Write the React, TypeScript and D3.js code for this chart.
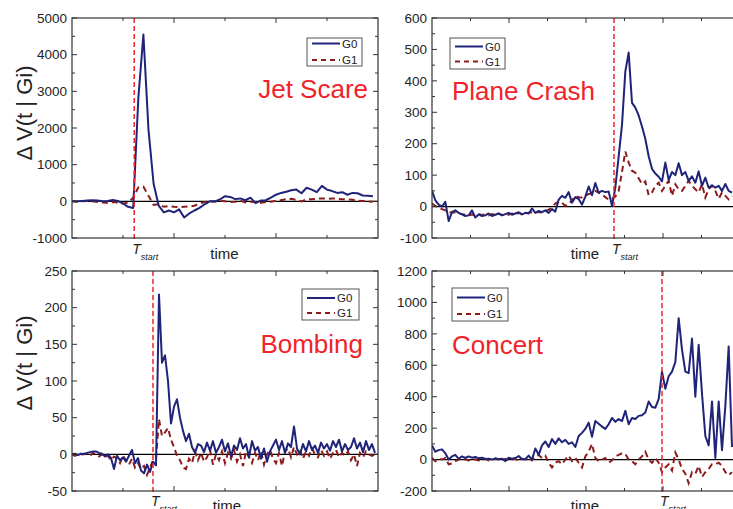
import React from "react";
import * as d3 from "d3";

// ---- Series values (ΔV per time step) ----
const jetG0 = [
  0, 0, 10, 20, 30, 20, 0, 10, 40, 10, -60, -150, -180, 2800, 4550, 1950, 480, -120,
  -300, -250, -300, -220, -440, -330, -250, -180, -80, 0, 0, 50, 140, 120, 60, 80, 30,
  100, -50, 20, 30, 100, 180, 230, 260, 300, 320, 220, 370, 320, 250, 420, 320, 280,
  230, 250, 180, 230, 220, 160, 150, 140,
];
const jetG1 = [
  0, -10, 0, 10, 0, -20, -30, -40, -20, -30, -60, -40, 100, 380, 400, 150, -100, -80,
  -150, -130, -150, -160, -150, -140, -120, -60, -20, 0, -10, 20, 0, -20, -10, 20, -30,
  -10, -20, -40, -20, -10, 20, 30, 60, 70, 40, 0, 50, 60, 70, 80, 70, 80, 70, 60, 50,
  40, 20, 10, 0, -10,
];

const planeG0 = [
  50, 20, 6, 0, 15, -46, -18, -12, -20, -25, -30, -28, -12, -35, -25, -30, -28, -22,
  -30, -26, -22, -28, -24, -20, -26, -22, -18, -25, -20, -22, -6, -20, -14, -18, -12,
  -20, -8, -16, 22, 34, 28, 46, 12, 30, 24, 6, 32, 64, 36, 75, 44, 50, 46, 48, 2, 60,
  160, 260, 430, 490, 330, 315, 290, 255, 215, 160, 120, 105, 95, 80, 140, 85, 110,
  100, 138, 100, 110, 82, 96, 76, 112, 66, 92, 60, 68, 60, 66, 50, 72, 50, 44,
];
const planeG1 = [
  10, 2, -4, -8, -12, -19, -18, -19, -22, -24, -26, -28, -25, -28, -24, -27, -25, -28,
  -24, -26, -22, -27, -24, -26, -22, -25, -20, -24, -22, -20, -18, -19, -17, -18, -15,
  -10, -3, 10, 16, 12, 2, 8, 20, 34, 30, 29, 34, 40, 42, 50, 44, 38, 30, 22, 25, 32,
  50, 110, 175, 140, 114, 108, 90, 72, 80, 36, 45, 66, 76, 50, 66, 82, 34, 71, 55, 50,
  66, 82, 66, 55, 45, 71, 29, 55, 66, 50, 25, 45, 34, 23, 34,
];

const bombG0 = [
  0, 1, -1, 1, 0, 2, 3, 4, 4, 2, 1, -3, 0, -5, -20, -2, -8, -4, -10, -2, 6, -12, -5,
  -22, -26, -14, -24, -10, -15, 218, 125, 135, 100, 42, 65, 75, 50, 32, 18, 28, 10, 2,
  14, 12, 3, 16, 5, 18, 2, 10, 20, 4, 15, -3, 12, 6, 22, 8, 14, -4, 18, 5, 10, -6, 8,
  -10, 4, 12, 20, 6, 18, 2, 15, 10, 38, 8, 0, 14, 4, 18, 6, 12, 2, 16, 8, 14, 5, 18,
  10, 20, 4, 14, 6, 10, 22, 8, 16, 3, 18, 6, 14, 2,
];
const bombG1 = [
  0, -2, 0, -1, 1, 0, -2, 2, 0, -3, 0, -4, -2, -8, -3, -6, -12, -2, -8, -14, -6, -18,
  -12, -20, -16, -28, -18, -8, -5, 48, 25, 30, 36, 20, 10, -2, -8, -18, -20, -6, -12, 4,
  -8, 2, -10, -4, 6, -14, 0, -8, 4, -12, 2, -6, 6, -10, 0, -16, 4, -4, -12, 2, -8, 4,
  -14, 0, 6, -6, -12, 2, -16, 4, 8, -4, 10, 0, 6, -6, 4, -2, 8, 0, -4, 6, -2, 4, -6, 2,
  6, -4, 2, -2, 4, -8, 0, -16, 2, -4, 4, 0, -2, 0,
];

const concertG0 = [
  90, 50, 60, 65, 40, 0, 20, 30, 5, 20, 10, 20, 12, 16, 8, 12, 4, 6, 0, 8, 2, 6, -10,
  12, 5, 10, 22, 4, 2, 25, 0, 70, 30, 90, 115, 80, 130, 100, 135, 110, 125, 100, 110,
  80, 150, 170, 195, 235, 145, 245, 228, 210, 195, 225, 265, 240, 258, 245, 310, 225,
  265, 258, 278, 282, 300, 370, 335, 330, 385, 560, 450, 530, 560, 620, 900, 700, 560,
  550, 770, 400, 730, 420, 150, 90, 370, 10, 370, 60, 340, 720, 80,
];
const concertG1 = [
  10, -10, 5, 0, 10, -30, -25, -10, 0, 5, 0, -5, 5, 0, -5, 0, 5, -5, 0, 5, 0, -5, 5,
  -5, 0, 5, -10, 5, 0, 10, -5, 20, 30, 10, 25, -20, -50, -20, -10, -30, 0, 25, -10, 10,
  -20, -50, 20, 50, 100, 10, -10, 0, 10, -20, -5, 20, 30, 40, 35, 0, -10, -30, 0, 20,
  50, 0, -20, 10, -20, -80, -50, -30, -70, 45, 0, -60, -90, -150, -80, -90, -40, -110,
  -80, -60, -30, -30, -20, -40, -80, -100, -80,
];

const seriesNames = ["G0", "G1"];
const panelTitles = ["Jet Scare", "Plane Crash", "Bombing", "Concert"];
const yDomains: [number, number][] = [
  [-1000, 5000],
  [-100, 600],
  [-50, 250],
  [-200, 1200],
];
const yMajorSteps = [1000, 100, 50, 200];
const tStarts = [12.2, 54.6, 27, 69];
const xMaxes = [60, 92.4, 102, 92.4];

// ---- Layout for each panel ----
const layout = [
  {
    box: { l: 72, r: 378, t: 18, b: 238 },
    xDiv: 6,
    legend: { x: 307, y: 38, w: 55, h: 28, r0: 5.5, r1: 22 },
    title: { x: 368, y: 98, anchor: "end" },
    yTitle: 113,
    timeX: 224.5,
    timeY: 259,
    tY: 254,
  },
  {
    box: { l: 432, r: 740, t: 18, b: 238 },
    xDiv: 8,
    legend: { x: 450, y: 38, w: 55, h: 31, r0: 8.5, r1: 23.5 },
    title: { x: 452, y: 100, anchor: "start" },
    yTitle: null,
    timeX: 585,
    timeY: 259,
    tY: 254,
  },
  {
    box: { l: 72, r: 378, t: 271, b: 491 },
    xDiv: 6,
    legend: { x: 302, y: 289, w: 57, h: 31, r0: 9, r1: 24 },
    title: { x: 363, y: 353, anchor: "end" },
    yTitle: 363,
    timeX: 227,
    timeY: 511,
    tY: 506,
  },
  {
    box: { l: 432, r: 740, t: 271, b: 491 },
    xDiv: 8,
    legend: { x: 452, y: 288, w: 56, h: 33, r0: 9.5, r1: 26 },
    title: { x: 452, y: 354, anchor: "start" },
    yTitle: null,
    timeX: 585,
    timeY: 511,
    tY: 506,
  },
];

const seriesData = [
  [jetG0, jetG1],
  [planeG0, planeG1],
  [bombG0, bombG1],
  [concertG0, concertG1],
];

const COLOR_G0 = "#1f2478";
const COLOR_G1 = "#8c1c1c";
const RED = "#f0232b";
const AXIS = "#333";
const FONT = "'Liberation Sans', Arial, Helvetica, sans-serif";

function Panel({ idx }: { idx: number }) {
  const L = layout[idx];
  const { l, r, t, b } = L.box;
  const [g0, g1] = seriesData[idx];
  const yDom = yDomains[idx];
  const step = yMajorSteps[idx];

  const x = d3.scaleLinear().domain([0, xMaxes[idx]]).range([l, r]);
  const y = d3.scaleLinear().domain(yDom).range([b, t]);
  const xt = d3.scaleLinear().domain([0, L.xDiv]).range([l, r]);

  const line = d3
    .line<number>()
    .x((_, i) => x(i))
    .y((v) => y(v));

  const majors = d3.range(yDom[0], yDom[1] + step / 2, step);
  const minors = d3.range(yDom[0] + step / 2, yDom[1], step);
  const xTicks = d3.range(1, L.xDiv);
  const clipId = `clip-${idx}`;
  const ts = x(tStarts[idx]);
  const lg = L.legend;

  return (
    <g>
      <defs>
        <clipPath id={clipId}>
          <rect x={l} y={t} width={r - l} height={b - t} />
        </clipPath>
      </defs>
      {/* zero reference line */}
      <line x1={l} x2={r} y1={y(0)} y2={y(0)} stroke="#000" strokeWidth={1.2} />
      <g clipPath={`url(#${clipId})`}>
        <path
          d={line(g1) || ""}
          fill="none"
          stroke={COLOR_G1}
          strokeWidth={2}
          strokeDasharray="6,4"
        />
        <path d={line(g0) || ""} fill="none" stroke={COLOR_G0} strokeWidth={2} strokeLinejoin="round" />
      </g>
      {/* event start marker */}
      <line
        x1={ts}
        x2={ts}
        y1={t}
        y2={b + 3}
        stroke={RED}
        strokeWidth={1.5}
        strokeDasharray="5,3"
      />
      {/* frame */}
      <rect x={l} y={t} width={r - l} height={b - t} fill="none" stroke={AXIS} strokeWidth={1.2} />
      {majors.map((v) => (
        <g key={`ym${v}`}>
          <line x1={l} x2={l + 5} y1={y(v)} y2={y(v)} stroke={AXIS} strokeWidth={1} />
          <line x1={r} x2={r - 5} y1={y(v)} y2={y(v)} stroke={AXIS} strokeWidth={1} />
          <text
            x={l - 5}
            y={y(v)}
            dy="0.35em"
            textAnchor="end"
            fontSize={13.5}
            fill="#222"
            fontFamily={FONT}
          >
            {String(v)}
          </text>
        </g>
      ))}
      {minors.map((v) => (
        <g key={`yn${v}`}>
          <line x1={l} x2={l + 3} y1={y(v)} y2={y(v)} stroke={AXIS} strokeWidth={1} />
          <line x1={r} x2={r - 3} y1={y(v)} y2={y(v)} stroke={AXIS} strokeWidth={1} />
        </g>
      ))}
      {xTicks.map((k) => {
        const len = k % 2 === 0 ? 5 : 3;
        return (
          <g key={`xt${k}`}>
            <line x1={xt(k)} x2={xt(k)} y1={b} y2={b - len} stroke={AXIS} strokeWidth={1} />
            <line x1={xt(k)} x2={xt(k)} y1={t} y2={t + len} stroke={AXIS} strokeWidth={1} />
          </g>
        );
      })}
      {/* legend */}
      <rect x={lg.x} y={lg.y} width={lg.w} height={lg.h} fill="#fff" stroke="#555" strokeWidth={1} />
      <line
        x1={lg.x + 5}
        x2={lg.x + 33}
        y1={lg.y + lg.r0}
        y2={lg.y + lg.r0}
        stroke={COLOR_G0}
        strokeWidth={2}
      />
      <line
        x1={lg.x + 5}
        x2={lg.x + 33}
        y1={lg.y + lg.r1}
        y2={lg.y + lg.r1}
        stroke={COLOR_G1}
        strokeWidth={2}
        strokeDasharray="5,4"
      />
      {seriesNames.map((n, i) => (
        <text
          key={n}
          x={lg.x + 35}
          y={lg.y + (i === 0 ? lg.r0 : lg.r1)}
          dy="0.35em"
          fontSize={11.5}
          fill="#222"
          fontFamily={FONT}
        >
          {n}
        </text>
      ))}
      {/* event name */}
      <text
        x={L.title.x}
        y={L.title.y}
        textAnchor={L.title.anchor as any}
        fontSize={26}
        fill={RED}
        fontFamily={FONT}
      >
        {panelTitles[idx]}
      </text>
      {/* axis annotations */}
      <text x={L.timeX} y={L.timeY} textAnchor="middle" fontSize={15} fill="#222" fontFamily={FONT}>
        time
      </text>
      <text x={ts - 2} y={L.tY} fontSize={14} fontStyle="italic" fill="#222" fontFamily={FONT}>
        T
        <tspan fontSize={9} dy={6}>
          start
        </tspan>
      </text>
      {L.yTitle !== null && (
        <text
          transform={`translate(24,${L.yTitle}) rotate(-90)`}
          textAnchor="middle"
          dy="0.35em"
          fontSize={22}
          fill="#222"
          fontFamily={FONT}
        >
          Δ V(t | Gi)
        </text>
      )}
    </g>
  );
}

export default function App() {
  return (
    <svg
      width={733}
      height={509}
      viewBox="0 0 733 509"
      style={{ position: "absolute", left: 0, top: 0, background: "#fff" }}
    >
      <rect width={733} height={509} fill="#fff" />
      {layout.map((_, i) => (
        <Panel key={i} idx={i} />
      ))}
    </svg>
  );
}
